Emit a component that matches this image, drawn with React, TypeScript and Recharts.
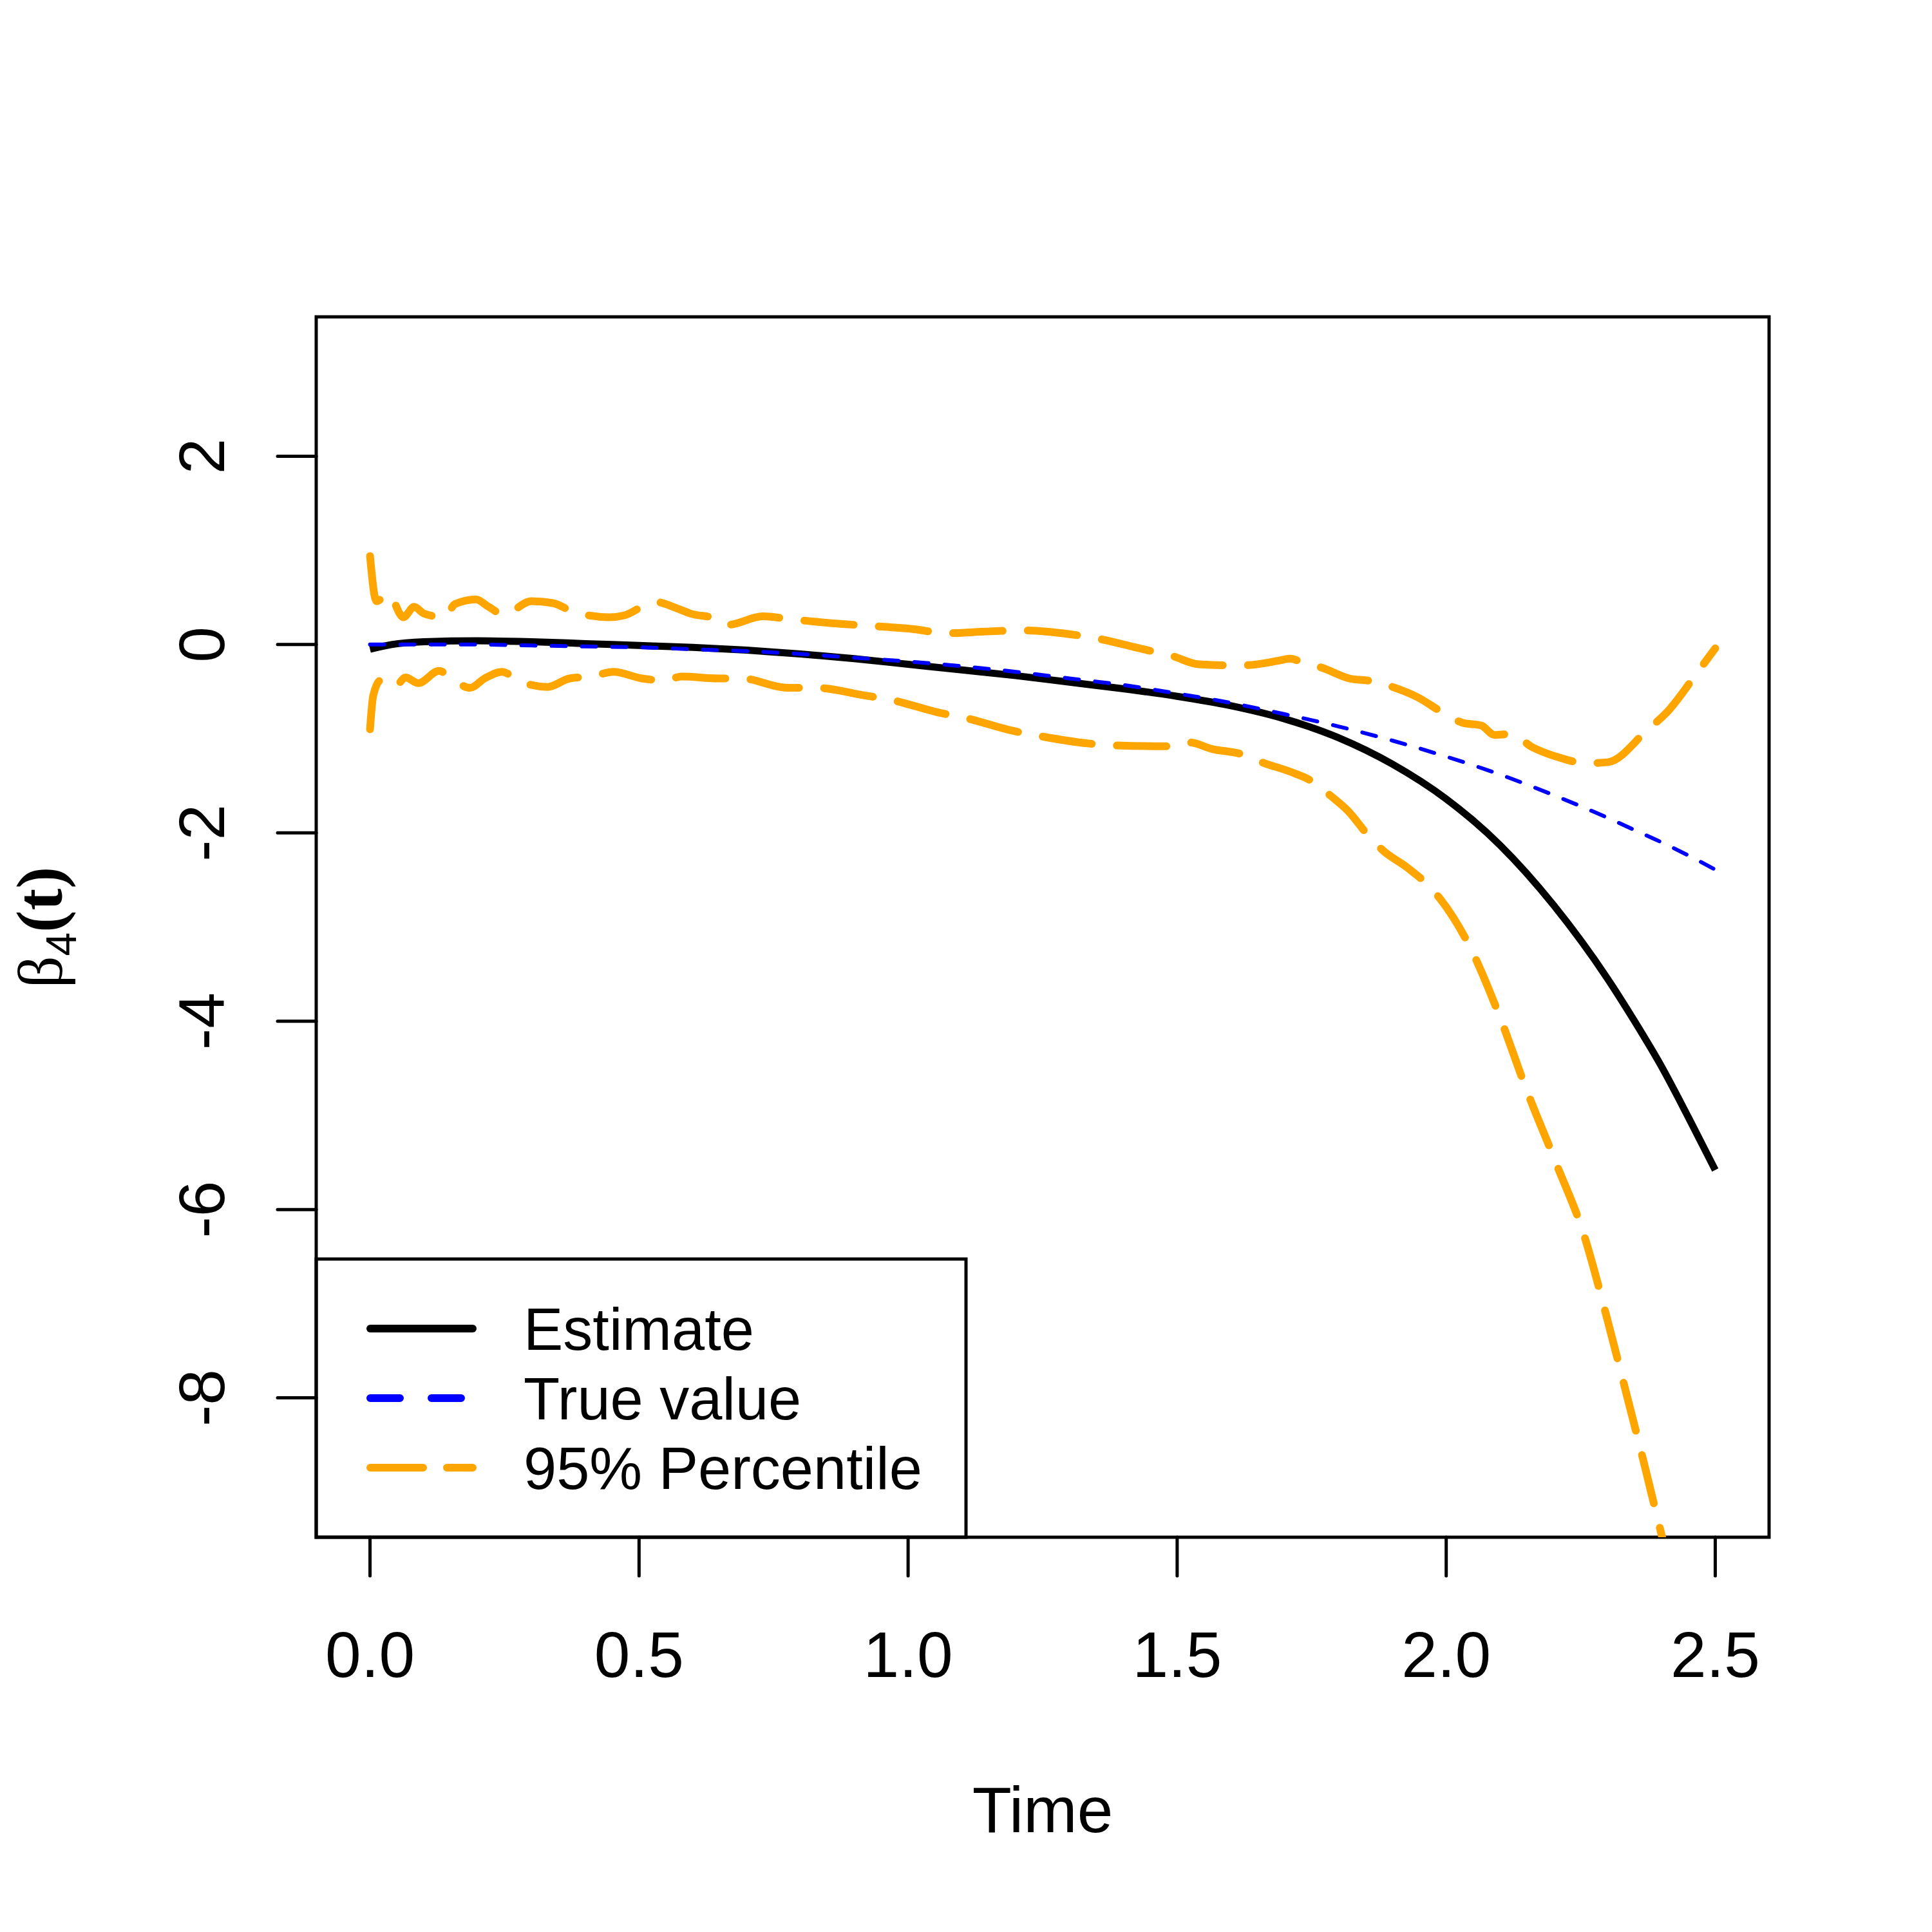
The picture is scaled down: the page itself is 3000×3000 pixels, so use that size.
import { LineChart, Line, XAxis, YAxis, ReferenceArea, Customized } from 'recharts'

// time grid for the two smooth curves
const curveTime = [0, 0.04, 0.1, 0.2, 0.3, 0.4, 0.5, 0.6, 0.7, 0.8, 0.9, 1.0, 1.1, 1.2, 1.3, 1.4, 1.5, 1.6, 1.7, 1.8, 1.9, 2.0, 2.1, 2.2, 2.3, 2.35, 2.4, 2.45, 2.5]
const estimate = [-0.05, 0.0, 0.03, 0.04, 0.03, 0.01, -0.01, -0.03, -0.06, -0.1, -0.15, -0.21, -0.27, -0.33, -0.4, -0.47, -0.55, -0.65, -0.79, -0.99, -1.27, -1.64, -2.13, -2.77, -3.55, -4.0, -4.48, -5.02, -5.58]
const trueValue = [0.0, 0.0, 0.0, 0.0, -0.01, -0.02, -0.03, -0.05, -0.07, -0.1, -0.14, -0.18, -0.23, -0.29, -0.36, -0.43, -0.52, -0.62, -0.74, -0.87, -1.02, -1.19, -1.38, -1.6, -1.84, -1.97, -2.1, -2.24, -2.39]

// 95% percentile band, read point by point
const upperTime = [0, 0.012, 0.034, 0.062, 0.082, 0.1, 0.138, 0.158, 0.197, 0.218, 0.249, 0.3, 0.34, 0.377, 0.445, 0.473, 0.509, 0.533, 0.568, 0.595, 0.646, 0.665, 0.73, 0.78, 0.874, 0.925, 1.016, 1.068, 1.152, 1.21, 1.3, 1.346, 1.437, 1.49, 1.54, 1.585, 1.623, 1.69, 1.71, 1.74, 1.765, 1.82, 1.863, 1.9, 1.947, 1.99, 2.03, 2.065, 2.09, 2.12, 2.16, 2.21, 2.26, 2.3, 2.375, 2.41, 2.47, 2.5]
const upperBound = [0.94, 0.46, 0.54, 0.29, 0.4, 0.33, 0.29, 0.43, 0.48, 0.41, 0.32, 0.46, 0.44, 0.35, 0.29, 0.31, 0.41, 0.45, 0.39, 0.33, 0.27, 0.21, 0.3, 0.27, 0.22, 0.2, 0.16, 0.12, 0.14, 0.15, 0.11, 0.07, -0.05, -0.12, -0.21, -0.22, -0.22, -0.17, -0.15, -0.21, -0.24, -0.36, -0.39, -0.45, -0.56, -0.71, -0.83, -0.86, -0.96, -0.95, -1.09, -1.2, -1.26, -1.25, -0.9, -0.72, -0.27, -0.04]
const lowerTime = [0, 0.006, 0.02, 0.046, 0.066, 0.09, 0.128, 0.158, 0.186, 0.213, 0.245, 0.278, 0.33, 0.371, 0.41, 0.453, 0.505, 0.545, 0.58, 0.646, 0.69, 0.776, 0.828, 0.919, 0.97, 1.055, 1.107, 1.19, 1.243, 1.334, 1.379, 1.477, 1.523, 1.565, 1.617, 1.662, 1.71, 1.75, 1.786, 1.818, 1.854, 1.883, 1.928, 1.967, 1.99, 2.044, 2.1, 2.15, 2.205, 2.256, 2.295, 2.331, 2.367, 2.4, 2.45, 2.5]
const lowerBound = [-0.9, -0.54, -0.38, -0.45, -0.35, -0.41, -0.28, -0.39, -0.46, -0.36, -0.29, -0.39, -0.45, -0.36, -0.34, -0.29, -0.36, -0.38, -0.34, -0.36, -0.36, -0.46, -0.46, -0.54, -0.59, -0.72, -0.78, -0.91, -0.97, -1.05, -1.07, -1.08, -1.04, -1.11, -1.16, -1.26, -1.35, -1.45, -1.61, -1.77, -2.02, -2.19, -2.37, -2.56, -2.71, -3.21, -3.96, -4.74, -5.52, -6.27, -7.07, -7.87, -8.68, -9.45, -10.55, -11.65]

const xTicks = [0, 0.5, 1.0, 1.5, 2.0, 2.5]
const yTicks = [2, 0, -2, -4, -6, -8]
const legendLabels = ['Estimate', 'True value', '95% Percentile']

const SANS = 'Liberation Sans, Arial, sans-serif'
const SERIF = 'Liberation Serif, Times New Roman, serif'

const toPoints = (ts: number[], vs: number[]) => ts.map((t, i) => ({ t, v: vs[i] }))

const XTick = ({ x, y, payload }: any) => (
  <text x={x} y={y + 157} textAnchor="middle" fontSize={100} fontFamily={SANS} fill="#000">
    {payload.value.toFixed(1)}
  </text>
)

const YTick = ({ x, y, payload }: any) => (
  <text transform={`translate(${x - 83},${y}) rotate(-90)`} textAnchor="middle" fontSize={100} fontFamily={SANS} fill="#000">
    {payload.value}
  </text>
)

const YLabel = () => (
  <text transform="translate(96,1440) rotate(-90)" textAnchor="middle" fill="#000">
    <tspan fontFamily={SERIF} fontSize={98}>β</tspan>
    <tspan fontFamily={SANS} fontSize={66} dy={22}>4</tspan>
    <tspan fontFamily={SERIF} fontSize={102} fontWeight="bold" dy={-22}>(t)</tspan>
  </text>
)

const LegendBox = () => {
  const rows = [
    { stroke: '#000000', dash: undefined },
    { stroke: '#0000FF', dash: '46 49' },
    { stroke: '#FFA500', dash: '82 37' },
  ]
  return (
    <g>
      <rect x={491} y={1955} width={1009} height={432} fill="#fff" stroke="#000" strokeWidth={5} />
      {legendLabels.map((label, i) => {
        const cy = 2063 + i * 108
        return (
          <g key={label}>
            <line x1={575} x2={734} y1={cy} y2={cy} stroke={rows[i].stroke} strokeWidth={12}
              strokeDasharray={rows[i].dash} strokeLinecap="round" />
            <text x={813} y={cy + 33} fontSize={92} fontFamily={SANS} fill="#000">{label}</text>
          </g>
        )
      })}
    </g>
  )
}

export default function App() {
  return (
    <div style={{ position: 'absolute', left: 0, top: 0, width: 3000, height: 3000, background: '#fff' }}>
      <LineChart width={3000} height={3000} margin={{ top: 492, right: 253, bottom: 413, left: 291 }}>
        <XAxis
          dataKey="t"
          type="number"
          domain={[-0.1, 2.6]}
          ticks={xTicks}
          allowDataOverflow
          height={200}
          axisLine={false}
          tickSize={60}
          tickMargin={0}
          tickLine={{ stroke: '#000', strokeWidth: 5, strokeLinecap: 'round' }}
          tick={<XTick />}
          label={{ value: 'Time', position: 'insideBottom', offset: 0, content: () => (
            <text x={1619} y={2845} textAnchor="middle" fontSize={100} fontFamily={SANS} fill="#000">Time</text>
          ) }}
        />
        <YAxis
          dataKey="v"
          type="number"
          domain={[-9.48, 3.48]}
          ticks={yTicks}
          allowDataOverflow
          width={200}
          axisLine={false}
          tickSize={60}
          tickMargin={0}
          tickLine={{ stroke: '#000', strokeWidth: 5, strokeLinecap: 'round' }}
          tick={<YTick />}
          label={{ value: 'β4(t)', content: () => <YLabel /> }}
        />
        <Line data={toPoints(upperTime, upperBound)} dataKey="v" type="monotone" stroke="#FFA500" strokeWidth={12}
          strokeDasharray="77 39" strokeLinecap="round" strokeLinejoin="round" dot={false} activeDot={false} isAnimationActive={false} />
        <Line data={toPoints(lowerTime, lowerBound)} dataKey="v" type="monotone" stroke="#FFA500" strokeWidth={12}
          strokeDasharray="77 39" strokeLinecap="round" strokeLinejoin="round" dot={false} activeDot={false} isAnimationActive={false} />
        <Line data={toPoints(curveTime, estimate)} dataKey="v" type="monotone" stroke="#000000" strokeWidth={11}
          dot={false} activeDot={false} isAnimationActive={false} />
        <Line data={toPoints(curveTime, trueValue)} dataKey="v" type="monotone" stroke="#0000FF" strokeWidth={6}
          strokeDasharray="22 25" strokeLinecap="round" dot={false} activeDot={false} isAnimationActive={false} />
        <ReferenceArea x1={-0.1} x2={2.6} y1={-9.48} y2={3.48} fill="none" stroke="#000" strokeWidth={5} ifOverflow="visible" />
        <Customized component={LegendBox} />
      </LineChart>
    </div>
  )
}
